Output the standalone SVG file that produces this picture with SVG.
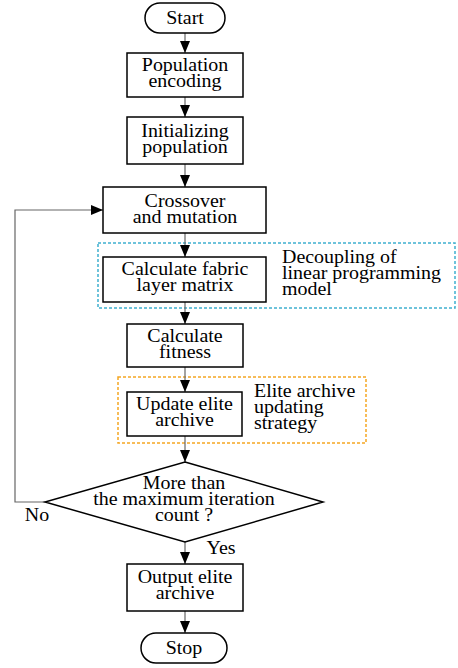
<svg xmlns="http://www.w3.org/2000/svg" width="458" height="668" viewBox="0 0 458 668">
<style>
.box{fill:#fff;stroke:#000;stroke-width:1.5}
.t{font-family:"Liberation Serif","Times New Roman",serif;font-size:19px;fill:#000}
.c{text-anchor:middle}
.ln{fill:none;stroke:#666;stroke-width:1.2}
.cy{fill:none;stroke:#3fb0cf;stroke-width:1.5;stroke-dasharray:3 2}
.or{fill:none;stroke:#f5a623;stroke-width:1.5;stroke-dasharray:3 2}
</style>
<defs>
<marker id="ah" viewBox="0 0 12 10" refX="12" refY="5" markerWidth="12" markerHeight="10" orient="auto" markerUnits="userSpaceOnUse">
<path d="M0,0 L12,5 L0,10 z" fill="#000"/>
</marker>
</defs>
<rect width="458" height="668" fill="#fff"/>
<g id="groups">
<rect class="cy" x="98" y="243" width="357" height="65"/>
<rect class="or" x="118" y="377" width="248" height="66"/>
</g>
<g id="connectors">
<line class="ln" x1="185" y1="33" x2="185" y2="53" marker-end="url(#ah)"/>
<line class="ln" x1="185" y1="97" x2="185" y2="117" marker-end="url(#ah)"/>
<line class="ln" x1="185" y1="164" x2="185" y2="187" marker-end="url(#ah)"/>
<line class="ln" x1="185" y1="233" x2="185" y2="257" marker-end="url(#ah)"/>
<line class="ln" x1="185" y1="302" x2="185" y2="324" marker-end="url(#ah)"/>
<line class="ln" x1="185" y1="367" x2="185" y2="392" marker-end="url(#ah)"/>
<line class="ln" x1="185" y1="436" x2="185" y2="462" marker-end="url(#ah)"/>
<line class="ln" x1="185" y1="542" x2="185" y2="564" marker-end="url(#ah)"/>
<line class="ln" x1="185" y1="611" x2="185" y2="633" marker-end="url(#ah)"/>
<polyline class="ln" points="45,502 15,502 15,210 103,210" marker-end="url(#ah)"/>
<text class="t c" transform="translate(37,521) scale(1.05,1)">No</text>
<text class="t c" transform="translate(221,554) scale(1.05,1)">Yes</text>
</g>
<g id="start">
<rect class="box" x="145" y="3" width="80" height="30" rx="15"/>
<text class="t c" transform="translate(185,24) scale(1.05,1)">Start</text>
</g>
<g id="encoding">
<rect class="box" x="127" y="53" width="116" height="44"/>
<text class="t c" transform="translate(185,71) scale(1.05,1)"><tspan x="0" y="0">Population</tspan><tspan x="0" y="16">encoding</tspan></text>
</g>
<g id="init">
<rect class="box" x="127" y="117" width="116" height="47"/>
<text class="t c" transform="translate(185,137) scale(1.05,1)"><tspan x="0" y="0">Initializing</tspan><tspan x="0" y="16">population</tspan></text>
</g>
<g id="crossover">
<rect class="box" x="103" y="187" width="163" height="46"/>
<text class="t c" transform="translate(185,207) scale(1.05,1)"><tspan x="0" y="0">Crossover</tspan><tspan x="0" y="16">and mutation</tspan></text>
</g>
<g id="fabric">
<rect class="box" x="103" y="257" width="163" height="45"/>
<text class="t c" transform="translate(185,275) scale(1.05,1)"><tspan x="0" y="0">Calculate fabric</tspan><tspan x="0" y="16">layer matrix</tspan></text>
</g>
<g id="decoupling-label">
<text class="t" transform="translate(282,263) scale(1.05,1)"><tspan x="0" y="0">Decoupling of</tspan><tspan x="0" y="16">linear programming</tspan><tspan x="0" y="32">model</tspan></text>
</g>
<g id="fitness">
<rect class="box" x="127" y="324" width="116" height="43"/>
<text class="t c" transform="translate(185,342) scale(1.05,1)"><tspan x="0" y="0">Calculate</tspan><tspan x="0" y="16">fitness</tspan></text>
</g>
<g id="update">
<rect class="box" x="127" y="392" width="115" height="44"/>
<text class="t c" transform="translate(184.5,410) scale(1.05,1)"><tspan x="0" y="0">Update elite</tspan><tspan x="0" y="16">archive</tspan></text>
</g>
<g id="elite-label">
<text class="t" transform="translate(254,397) scale(1.05,1)"><tspan x="0" y="0">Elite archive</tspan><tspan x="0" y="16">updating</tspan><tspan x="0" y="32">strategy</tspan></text>
</g>
<g id="decision">
<polygon class="box" points="185,462 323,502 185,542 45,502"/>
<text class="t c" transform="translate(184,489) scale(1.05,1)"><tspan x="0" y="0">More than</tspan><tspan x="0" y="16">the maximum iteration</tspan><tspan x="0" y="32">count ?</tspan></text>
</g>
<g id="output">
<rect class="box" x="127" y="564" width="116" height="47"/>
<text class="t c" transform="translate(185,583) scale(1.05,1)"><tspan x="0" y="0">Output elite</tspan><tspan x="0" y="16">archive</tspan></text>
</g>
<g id="stop">
<rect class="box" x="141" y="633" width="86" height="30" rx="15"/>
<text class="t c" transform="translate(184,654) scale(1.05,1)">Stop</text>
</g>
</svg>
